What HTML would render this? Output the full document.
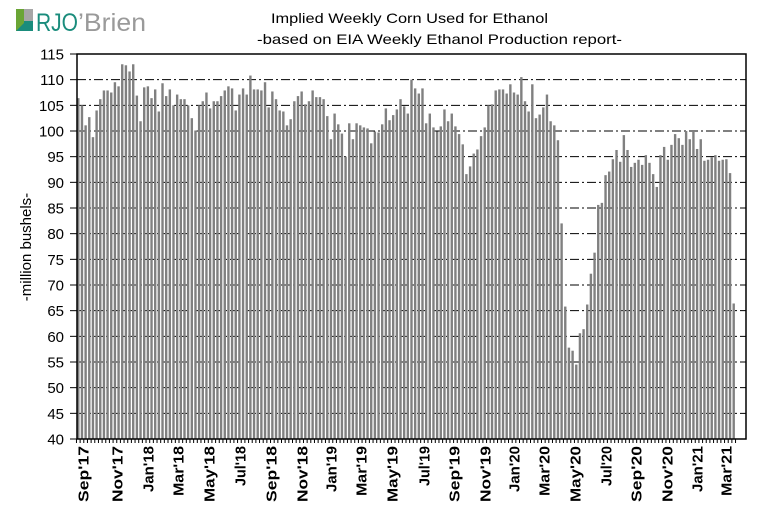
<!DOCTYPE html>
<html><head><meta charset="utf-8"><style>
html,body{margin:0;padding:0;background:#fff;}
svg{display:block;font-family:"Liberation Sans",Arial,sans-serif;}
</style></head><body>
<svg id="s" width="763" height="516" viewBox="0 0 763 516" xmlns="http://www.w3.org/2000/svg">
<rect width="763" height="516" fill="#fff"/>
<rect x="16" y="9" width="17" height="22" fill="#6aa535"/>
<rect x="24" y="9" width="9" height="12" fill="#a6a6a6"/>
<rect x="24" y="21" width="9" height="10" fill="#ffffff"/>
<polygon points="16,31 24,23 24,21 33,21 33,31" fill="#1a8c7c"/>
<text x="36" y="31" font-size="25" fill="#1a8c7c" textLength="42" lengthAdjust="spacingAndGlyphs">RJO</text>
<text x="78" y="31" font-size="25" fill="#9a9a9a" textLength="68" lengthAdjust="spacingAndGlyphs">’Brien</text>
<text x="271" y="23" font-size="14" textLength="277" lengthAdjust="spacingAndGlyphs">Implied  Weekly Corn Used for Ethanol</text>
<text x="257" y="44" font-size="14" textLength="365" lengthAdjust="spacingAndGlyphs">-based on EIA Weekly Ethanol Production report-</text>
<text transform="translate(31,247) rotate(-90)" font-size="15" text-anchor="middle">-million bushels-</text>
<g id="g"></g>
</svg>
<script>
var vals=[106.4,105,101.1,102.7,98.8,104,106.2,107.9,107.9,107.5,109.5,108.7,113,112.8,111.6,113,106.9,101.9,108.5,108.7,106.4,108.1,103.8,109.3,106.8,108.1,105,107.1,106.2,106.2,105,102.5,100.1,105,105.8,107.5,104.4,105.8,105.8,106.8,107.9,108.7,108.3,104,107.1,108.3,
107.1,110.8,108.1,108.1,107.9,109.5,104.6,107.7,106.2,104,103.8,101.1,102.3,105.8,106.8,107.7,105.2,105.8,107.9,106.6,106.6,106.2,102.9,98.4,103.4,101.3,99.5,95,101.5,98.4,101.5,101.1,100.7,100.5,97.6,99.9,99.7,101.3,104.4,102.1,103.1,104.2,106.2,104.8,103.4,
110,108.3,107.3,108.3,101.5,103.4,100.7,99.9,100.9,104.2,101.9,103.4,100.9,99.4,97.4,91.6,93.1,95.6,96.4,99,100.7,105,105.2,107.9,108.1,108.1,107.3,109.1,107.5,107.1,110.5,105.8,103.8,109.1,102.5,103.2,104.6,107.1,101.9,101.1,98.2,
82,65.8,57.8,57.2,54.5,60.6,61.4,66.2,72.2,76.3,
85.6,86,91.4,92.1,94.5,96.3,94,99.2,96.3,93,93.8,94.4,93.4,95.3,93.8,91.6,89.1,95.3,96.9,94.4,97.3,99.4,98.6,97.3,100,98.4,100,96.5,98.4,94.2,94.4,94.9,95.3,94.2,94.4,94.5,91.8,66.4];
var L=77,R=746,T=54,B=439;
function Y(v){return T+(115-v)*(B-T)/75;}
var h='';
var n=vals.length, x0=78.3, dx=(733.7-78.3)/(n-1);
for(var v=110;v>=45;v-=5){h+='<line x1="'+L+'" x2="'+R+'" y1="'+Y(v)+'" y2="'+Y(v)+'" stroke="#000" stroke-width="1" stroke-dasharray="9,3,2,3"/>';}
for(var i=0;i<n;i++){var x=x0+i*dx;h+='<rect x="'+(x-1.2).toFixed(2)+'" y="'+Y(vals[i]).toFixed(2)+'" width="2.4" height="'+(B-Y(vals[i])).toFixed(2)+'" fill="#808080"/>';}
for(var i=0;i<=n;i++){var x=x0-dx/2+i*dx;h+='<line x1="'+x.toFixed(2)+'" x2="'+x.toFixed(2)+'" y1="'+B+'" y2="'+(B+4)+'" stroke="#000" stroke-width="1"/>';}
for(var v=40;v<=115;v+=5){var y=Y(v);h+='<line x1="70" x2="'+L+'" y1="'+y+'" y2="'+y+'" stroke="#000"/>';h+='<text x="64" y="'+(y+5.5)+'" font-size="15" text-anchor="end">'+v+'</text>';}
h+='<rect x="'+L+'" y="'+T+'" width="'+(R-L)+'" height="'+(B-T)+'" fill="none" stroke="#000" stroke-width="1.5"/>';
var labs=["Sep'17","Nov'17","Jan'18","Mar'18","May'18","Jul'18","Sep'18","Nov'18","Jan'19","Mar'19","May'19","Jul'19","Sep'19","Nov'19","Jan'20","Mar'20","May'20","Jul'20","Sep'20","Nov'20","Jan'21","Mar'21"];
var lw=[56,56,46,50,56,40,56,56,46,50,56,40,56,56,46,50,56,40,56,56,46,50];
var lx=[83,117,148,178,209,240,271,302,331,361,392,424,454,485,514,544,575,606,636,667,697,726];
for(var i=0;i<labs.length;i++){h+='<text transform="translate('+(lx[i]+5.5)+',446) rotate(-90)" font-size="15" font-weight="bold" text-anchor="end" textLength="'+lw[i]+'" lengthAdjust="spacingAndGlyphs">'+labs[i]+'</text>';}
document.getElementById('g').innerHTML=h;
</script>
</body></html>
